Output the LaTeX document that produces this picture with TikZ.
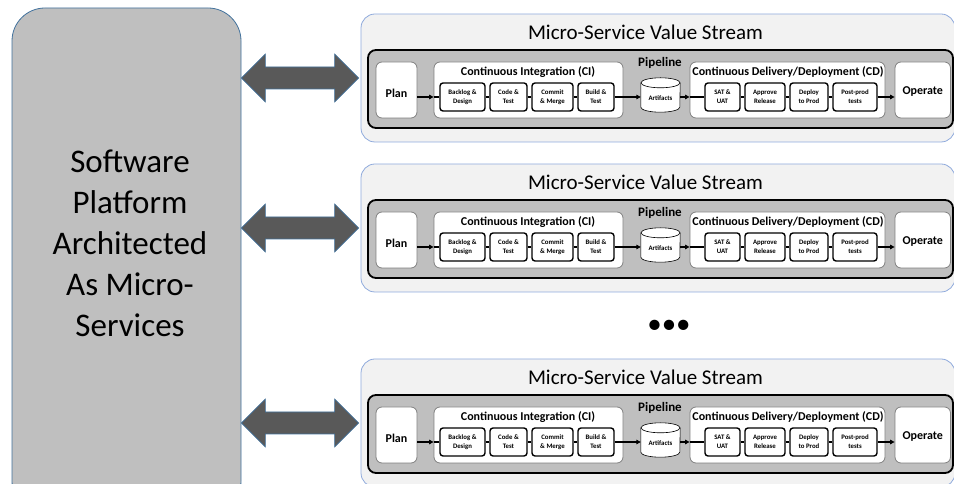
\documentclass[tikz,border=0pt]{standalone}
\usepackage{fontspec}
\setmainfont{Carlito}
\usetikzlibrary{arrows.meta,calc}
\definecolor{streamfill}{HTML}{F2F2F2}
\definecolor{streamline}{HTML}{8FAADC}
\definecolor{panelfill}{HTML}{BFBFBF}
\definecolor{platline}{HTML}{41719C}
\definecolor{arrowfill}{HTML}{595959}
\definecolor{boxline}{HTML}{808080}
\begin{document}
\begin{tikzpicture}[x=1pt,y=1pt,
  platbox/.style={draw=platline, line width=0.8pt, fill=panelfill, rounded corners=33pt, inner sep=0pt},
  plattext/.style={align=center, font=\fontsize{33}{41}\selectfont, inner sep=0pt},
  streambox/.style={draw=streamline, line width=0.8pt, fill=streamfill, rounded corners=14pt, inner sep=0pt, minimum width=594pt, minimum height=128pt},
  streamtitle/.style={font=\fontsize{21}{24}\selectfont, inner sep=0pt},
  panel/.style={draw=black, line width=1.8pt, fill=panelfill, rounded corners=8pt, inner sep=0pt, minimum width=585pt, minimum height=78pt},
  stagebox/.style={draw=boxline, line width=0.8pt, fill=white, rounded corners=6pt, inner sep=0pt, minimum height=56pt},
  stagetext/.style={font=\bfseries\fontsize{12}{14}\selectfont, inner sep=0pt},
  grouptitle/.style={font=\bfseries\fontsize{12}{14}\selectfont, inner sep=0pt},
  taskbox/.style={draw=black, line width=1.4pt, fill=white, rounded corners=3pt, inner sep=0pt, minimum height=28pt, align=center, font=\bfseries\fontsize{6.8}{9}\selectfont},
  link/.style={draw=black, line width=1.5pt},
  flow/.style={draw=black, line width=1.5pt, -{Triangle[length=4.5pt,width=4.5pt]}},
  dblarrow/.style={draw=platline, line width=0.6pt, fill=arrowfill},
  cyl/.style={draw=black, line width=0.6pt, fill=white}
]
\useasboundingbox (0,0) rectangle (954,484);
\clip (0,0) rectangle (954,484);

% software platform
\node[platbox, minimum width=229pt, minimum height=506pt] (plat) at (126.5,223) {};
\node[plattext] (plattxt) at (130,241) {Software\\Platform\\Architected\\As Micro-\\Services};

% three value streams
\foreach \k/\off in {1/0,2/150,3/345}{
\begin{scope}[yshift=-\off pt]
  \node[streambox] (ms\k) at (658,406) {};
  \node[streamtitle] (mst\k) at (645.5,452) {Micro-Service Value Stream};
  \node[panel] (db\k) at (660.5,395) {};

  \node[stagebox, minimum width=41pt] (plan\k) at (396.5,394) {};
  \node[stagetext] (planl\k) at (396.5,391) {Plan};
  \node[stagebox, minimum width=189pt] (ci\k) at (528.5,394) {};
  \node[grouptitle] (cit\k) at (528,412) {Continuous Integration (CI)};
  \node[taskbox, minimum width=45pt] (bl\k) at (462.5,387) {Backlog \&\\Design};
  \node[taskbox, minimum width=37pt] (ct\k) at (508.5,387) {Code \&\\Test};
  \node[taskbox, minimum width=41pt] (cm\k) at (552.5,387) {Commit\\\& Merge};
  \node[taskbox, minimum width=36pt] (bt\k) at (596,387) {Build \&\\Test};

  \node[grouptitle, font=\bfseries\fontsize{13}{15}\selectfont] (pip\k) at (660,421) {Pipeline};
  \coordinate (artc\k) at (660.5,389);
  \node[inner sep=0pt, minimum width=39pt, minimum height=34pt] (art\k) at (artc\k) {};
  \fill[white] ([yshift=-5pt]art\k.north west) rectangle ([yshift=5pt]art\k.south east);
  \fill[white] ([yshift=5pt]art\k.south) ellipse[x radius=19.5pt, y radius=5pt];
  \draw[cyl, fill=none] ([yshift=-5pt]art\k.north west) -- ([yshift=5pt]art\k.south west)
     arc[start angle=180, end angle=360, x radius=19.5pt, y radius=5pt]
     -- ([yshift=-5pt]art\k.north east);
  \draw[cyl] ([yshift=-5pt]art\k.north) ellipse[x radius=19.5pt, y radius=5pt];
  \node[inner sep=0pt, font=\bfseries\fontsize{6.8}{9}\selectfont] (artl\k) at ([yshift=-3pt]art\k.center) {Artifacts};

  \node[stagebox, minimum width=195pt] (cd\k) at (787.5,394) {};
  \node[grouptitle] (cdt\k) at (788,412) {Continuous Delivery/Deployment (CD)};
  \node[taskbox, minimum width=35pt] (sat\k) at (722.5,387) {SAT \&\\UAT};
  \node[taskbox, minimum width=40pt] (ap\k) at (765,387) {Approve\\Release};
  \node[taskbox, minimum width=38pt] (dp\k) at (809,387) {Deploy\\to Prod};
  \node[taskbox, minimum width=44pt] (pp\k) at (855,387) {Post-prod\\tests};

  \node[stagebox, minimum width=55.5pt] (op\k) at (922.75,394) {};
  \node[stagetext] (opl\k) at (922.75,392) {Operate};

  % flow through the pipeline
  \draw[flow] (plan\k.east |- bl\k.west) -- (ci\k.west |- bl\k.west);
  \draw[link] (ci\k.west |- bl\k.west) -- (bl\k.west);
  \draw[link] (bl\k.east) -- (ct\k.west);
  \draw[link] (ct\k.east) -- (cm\k.west);
  \draw[link] (cm\k.east) -- (bt\k.west);
  \draw[flow] (bt\k.east) -- (art\k.west |- bt\k.east);
  \draw[flow] (art\k.east |- sat\k.west) -- (cd\k.west |- sat\k.west);
  \draw[link] (cd\k.west |- sat\k.west) -- (sat\k.west);
  \draw[link] (sat\k.east) -- (ap\k.west);
  \draw[link] (ap\k.east) -- (dp\k.west);
  \draw[link] (dp\k.east) -- (pp\k.west);
  \draw[flow] (pp\k.east) -- (op\k.west |- pp\k.east);

  % two-way link between platform and stream
  \coordinate (aL\k) at (plat.east |- ms\k.west);
  \coordinate (aR\k) at ($(ms\k.west)+(-2,0)$);
  \draw[dblarrow] (aL\k) -- ++(24,24) -- ++(0,-13) -- ($(aR\k)+(-24,11)$) -- ++(0,13)
     -- (aR\k) -- ++(-24,-24) -- ++(0,13) -- ($(aL\k)+(24,-11)$) -- ++(0,-13) -- cycle;
\end{scope}
}

% more streams
\node[inner sep=0pt, font=\fontsize{29}{29}\selectfont] (more) at (669,157) {•••};
\end{tikzpicture}
\end{document}
